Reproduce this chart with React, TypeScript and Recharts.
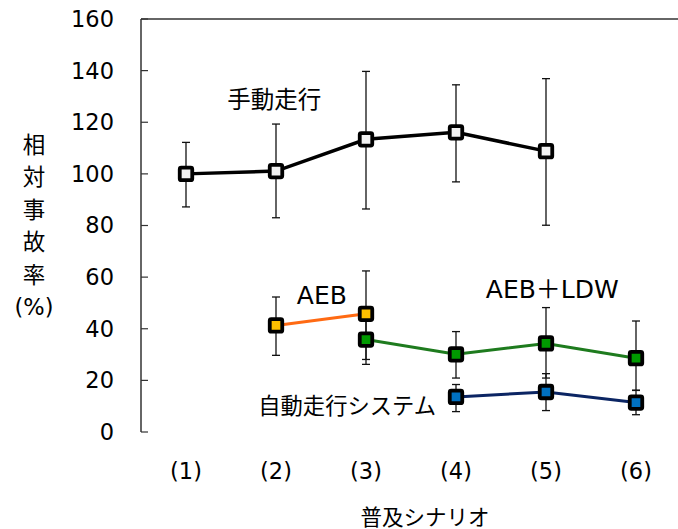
import React from 'react';
import { LineChart, Line, XAxis, YAxis, ErrorBar, ReferenceDot, ReferenceLine, Label } from 'recharts';

const categories = ['(1)', '(2)', '(3)', '(4)', '(5)', '(6)'];

const manualValue = [100, 101.1, 113.4, 116.1, 108.8, null];
const manualLow = [87.2, 83.0, 86.4, 96.9, 80.1, null];
const manualHigh = [112.2, 119.3, 139.7, 134.5, 136.9, null];

const aebValue = [null, 41.3, 45.8, null, null, null];
const aebLow = [null, 29.7, 28.1, null, null, null];
const aebHigh = [null, 52.3, 62.4, null, null, null];

const ldwValue = [null, null, 35.8, 30.1, 34.3, 28.6];
const ldwLow = [null, null, 26.2, 20.9, 20.9, 16.2];
const ldwHigh = [null, null, 45.5, 38.9, 48.2, 43.0];

const autoValue = [null, null, null, 13.6, 15.5, 11.4];
const autoLow = [null, null, null, 7.9, 8.3, 6.7];
const autoHigh = [null, null, null, 18.4, 22.6, 16.1];

const yTicks = [0, 20, 40, 60, 80, 100, 120, 140, 160];
const boundaryTicks = [1.5, 2.5, 3.5, 4.5, 5.5];
const categoryTicks = [1, 2, 3, 4, 5, 6];

const yTitle = ['相', '対', '事', '故', '率', '(%)'];
const xTitle = '普及シナリオ';

const seriesNames = { manual: '手動走行', aeb: 'AEB', ldw: 'AEB＋LDW', auto: '自動走行システム' };

const err = (v: number | null, lo: number | null, hi: number | null) =>
  v == null || lo == null || hi == null ? null : [v - lo, hi - v];

const data = categories.map((c, i) => ({
  x: i + 1,
  name: c,
  manual: manualValue[i],
  manualErr: err(manualValue[i], manualLow[i], manualHigh[i]),
  aeb: aebValue[i],
  aebErr: err(aebValue[i], aebLow[i], aebHigh[i]),
  ldw: ldwValue[i],
  ldwErr: err(ldwValue[i], ldwLow[i], ldwHigh[i]),
  auto: autoValue[i],
  autoErr: err(autoValue[i], autoLow[i], autoHigh[i]),
}));

const FONT = "'DejaVu Sans', 'Noto Sans CJK JP', sans-serif";

const makeDot = (fill: string) => (props: any) => {
  const { cx, cy, value, index } = props;
  if (value == null || cx == null || cy == null || isNaN(cx) || isNaN(cy)) return <g key={`d${index}`} />;
  return (
    <rect
      key={`d${index}`}
      x={cx - 6.25}
      y={cy - 6.25}
      width={12.5}
      height={12.5}
      rx={1.5}
      fill={fill}
      stroke="#000"
      strokeWidth={3.8}
    />
  );
};

const annotations = [
  { text: seriesNames.manual, x: 1.98, y: 128.6, size: 23.5 },
  { text: seriesNames.aeb, x: 2.51, y: 53.0, size: 25 },
  { text: seriesNames.ldw, x: 5.07, y: 55.5, size: 25 },
  { text: seriesNames.auto, x: 2.79, y: 10.0, size: 22.3 },
];

const YTitle = (props: any) => {
  const vb = props.viewBox || { x: 0, y: 19, width: 141, height: 413 };
  const cx = vb.x + 34;
  const cy = vb.y + vb.height / 2;
  return (
    <text x={cx} y={cy} textAnchor="middle" fontSize={22.5} fill="#000" fontFamily={FONT}>
      {yTitle.map((t, i) => (
        <tspan key={i} x={cx} y={cy - 81 + i * 32.5} dominantBaseline="central">
          {t}
        </tspan>
      ))}
    </text>
  );
};

const XTitle = (props: any) => {
  const vb = props.viewBox || { x: 141, y: 432, width: 540, height: 97 };
  return (
    <text
      x={vb.x + vb.width / 2 + 14}
      y={vb.y + 85}
      textAnchor="middle"
      dominantBaseline="central"
      fontSize={21.5}
      fill="#000"
      fontFamily={FONT}
    >
      {xTitle}
    </text>
  );
};

export default function App() {
  return (
    <div
      style={{
        position: 'fixed',
        left: 0,
        top: 0,
        width: 678,
        height: 529,
        overflow: 'hidden',
        background: '#fff',
        fontFamily: FONT,
      }}
    >
      <LineChart
        width={700}
        height={529}
        data={data}
        margin={{ top: 19, right: 19, left: 0, bottom: 0 }}
        style={{ fontFamily: FONT }}
      >
        <XAxis
          xAxisId="a"
          dataKey="x"
          type="number"
          domain={[0.5, 6.5]}
          ticks={boundaryTicks}
          tickFormatter={() => ''}
          tickSize={-7}
          height={0}
          axisLine={{ stroke: '#333', strokeWidth: 1.5 }}
          tickLine={{ stroke: '#333', strokeWidth: 1.2 }}
          allowDataOverflow
        />
        <XAxis
          xAxisId="b"
          dataKey="x"
          type="number"
          domain={[0.5, 6.5]}
          ticks={categoryTicks}
          tickFormatter={(v: number) => categories[v - 1]}
          tick={{ fill: '#000', fontSize: 22.5, fontFamily: FONT }}
          tickSize={0}
          tickMargin={31}
          axisLine={false}
          tickLine={false}
          height={97}
          allowDataOverflow
          label={<Label content={<XTitle />} />}
        />
        <YAxis
          domain={[0, 160]}
          ticks={yTicks}
          width={141}
          tickSize={-7}
          tickMargin={34}
          tick={{ fill: '#000', fontSize: 22.5, fontFamily: FONT }}
          axisLine={{ stroke: '#333', strokeWidth: 1.5 }}
          tickLine={{ stroke: '#333', strokeWidth: 1.2 }}
          allowDataOverflow
          label={<Label content={<YTitle />} />}
        />
        <ReferenceLine xAxisId="a" y={160} stroke="#333" strokeWidth={1.5} ifOverflow="visible" />

        <Line
          xAxisId="a"
          dataKey="manual"
          stroke="#000"
          strokeWidth={3.5}
          dot={makeDot('#f2f2f2')}
          isAnimationActive={false}
          connectNulls={false}
        >
          <ErrorBar dataKey="manualErr" direction="y" width={4} stroke="#111" strokeWidth={1.3} />
        </Line>
        <Line
          xAxisId="a"
          dataKey="aeb"
          stroke="#FF6A13"
          strokeWidth={3}
          dot={makeDot('#FFC000')}
          isAnimationActive={false}
        >
          <ErrorBar dataKey="aebErr" direction="y" width={4} stroke="#111" strokeWidth={1.3} />
        </Line>
        <Line
          xAxisId="a"
          dataKey="ldw"
          stroke="#1E7B1E"
          strokeWidth={3}
          dot={makeDot('#009A00')}
          isAnimationActive={false}
        >
          <ErrorBar dataKey="ldwErr" direction="y" width={4} stroke="#111" strokeWidth={1.3} />
        </Line>
        <Line
          xAxisId="a"
          dataKey="auto"
          stroke="#0B2563"
          strokeWidth={3}
          dot={makeDot('#0070C0')}
          isAnimationActive={false}
        >
          <ErrorBar dataKey="autoErr" direction="y" width={4} stroke="#111" strokeWidth={1.3} />
        </Line>

        {annotations.map((a, i) => (
          <ReferenceDot
            key={i}
            xAxisId="a"
            x={a.x}
            y={a.y}
            r={0}
            fill="none"
            stroke="none"
            ifOverflow="visible"
            label={{ value: a.text, position: 'center', fill: '#000', fontSize: a.size, fontFamily: FONT }}
          />
        ))}
      </LineChart>
    </div>
  );
}
